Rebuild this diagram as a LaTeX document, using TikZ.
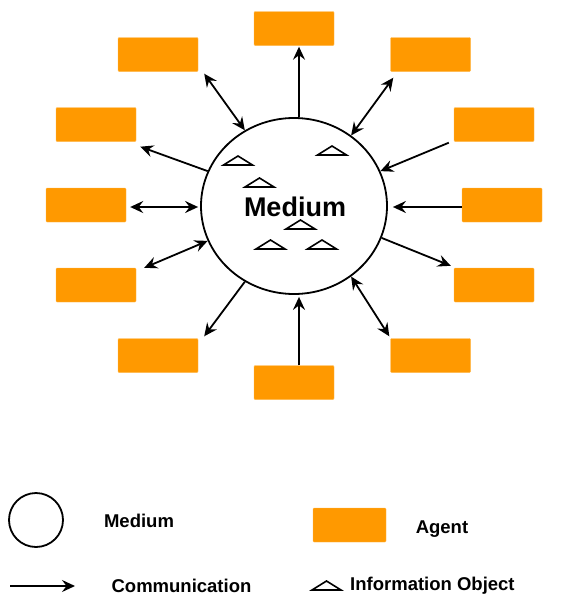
\documentclass[tikz,border=0pt]{standalone}
\usepackage{fontspec}
\setmainfont{Liberation Sans}
\usetikzlibrary{arrows.meta,shapes.geometric}
\definecolor{agentorange}{HTML}{FF9900}
\tikzset{
  agent/.style={fill=agentorange, draw=agentorange!70!white, line width=0.4pt, rounded corners=1pt, minimum width=80pt, minimum height=34pt, inner sep=0pt},
  medium/.style={ellipse, draw=black, line width=1.8pt, inner sep=0pt},
  conn/.style={line width=1.8pt, -{Stealth[length=13pt,width=12pt,inset=4.5pt]}},
  biconn/.style={line width=1.8pt, {Stealth[length=13pt,width=12pt,inset=4.5pt]}-{Stealth[length=13pt,width=12pt,inset=4.5pt]}},
  lbl/.style={font=\fontsize{18.5}{20}\selectfont\bfseries, inner sep=0pt},
  infobj/.pic={\draw[line width=1.6pt, line join=miter] (-14.5,0) -- (0,-9) -- (14.5,0) -- cycle;}
}
\begin{document}
\begin{tikzpicture}[x=1pt,y=-1pt]
\useasboundingbox (0,0) rectangle (572,597);
% medium
\node[medium, minimum width=186pt, minimum height=176pt] (m) at (294,206) {};
\node[font=\fontsize{27}{30}\selectfont\bfseries, inner sep=0pt] (mt) at (295,207) {Medium};
% information objects
\pic at (238,165) {infobj};
\pic at (332,155) {infobj};
\pic at (259.5,187) {infobj};
\pic at (300.5,229) {infobj};
\pic at (270.5,249) {infobj};
\pic at (322,249) {infobj};
% agents
\node[agent] (a1) at (294,28.5) {};
\node[agent] (a2) at (158,54.5) {};
\node[agent] (a3) at (430.5,54.5) {};
\node[agent] (a4) at (96,124.5) {};
\node[agent] (a5) at (86,205) {};
\node[agent] (a6) at (96,285) {};
\node[agent] (a7) at (494,124.5) {};
\node[agent] (a8) at (502,205) {};
\node[agent] (a9) at (494,285) {};
\node[agent] (a10) at (158,355.5) {};
\node[agent] (a11) at (294,382.5) {};
\node[agent] (a12) at (430.5,355.5) {};
% connectors
\draw[conn] ([xshift=5pt]m.north) -- ([xshift=5pt,yshift=-1pt]a1.south);
\draw[biconn] (m.123.9) -- ([xshift=6pt,yshift=-2pt]a2.south east);
\draw[biconn] (m.51.3) -- ([xshift=3pt,yshift=-6pt]a3.south west);
\draw[conn] (m.158.7) -- ([xshift=4pt,yshift=-5pt]a4.south east);
\draw[biconn] ([xshift=-2pt,yshift=-1pt]m.west) -- ([xshift=4pt,yshift=-2pt]a5.east);
\draw[biconn] (m.202.7) -- ([xshift=8pt]a6.north east);
\draw[conn] ([xshift=-5pt,yshift=-1pt]a7.south west) -- (m.22.1);
\draw[conn] ([yshift=-2pt]a8.west) -- ([xshift=5pt,yshift=-1pt]m.east);
\draw[conn] (m.-20.3) -- ([xshift=-3pt,yshift=2pt]a9.north west);
\draw[conn] (m.237.5) -- ([xshift=6pt,yshift=2pt]a10.north east);
\draw[conn] ([xshift=5pt]a11.north) -- ([xshift=5pt,yshift=-2pt]m.south);
\draw[biconn] (m.-51.9) -- ([xshift=-1pt,yshift=2pt]a12.north west);
% legend
\node[medium, minimum width=54pt, minimum height=54pt] (lm) at (36,520) {};
\node[lbl] (lmt) at (139,521) {Medium};
\node[agent, minimum width=73pt, minimum height=34pt] (la) at (349.5,525) {};
\node[lbl] (lat) at (442,529) {Agent};
\coordinate (lc1) at (10,586);
\coordinate (lc2) at (75,586);
\draw[conn] (lc1) -- (lc2);
\node[lbl] (lct) at (181.5,586) {Communication};
\pic at (326.5,590) {infobj};
\node[lbl, anchor=west] (lit) at (350,586) {Information Object};
\end{tikzpicture}
\end{document}
